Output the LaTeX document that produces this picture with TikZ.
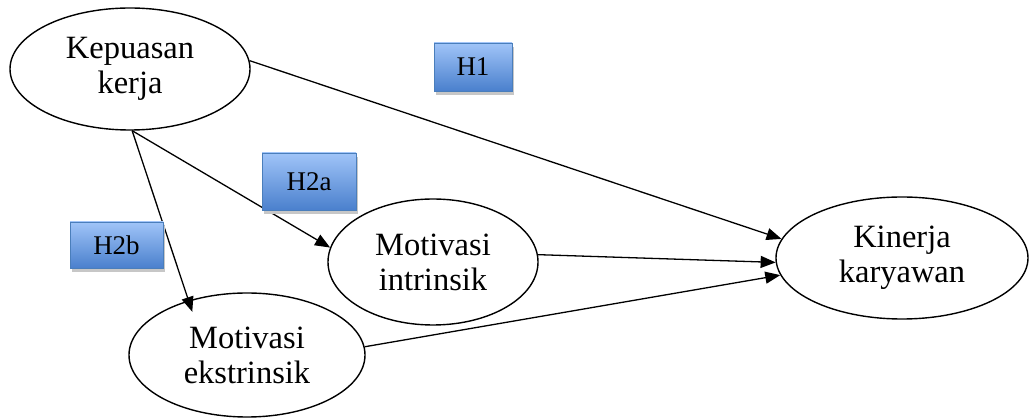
\documentclass[tikz,border=0pt]{standalone}
\usepackage{fontspec}
\setmainfont{Liberation Serif}
\usetikzlibrary{shapes.geometric,arrows.meta,shadows}
\begin{document}
\begin{tikzpicture}[x=1pt,y=-1pt,
  var/.style={ellipse,draw=black,line width=1.4pt,inner sep=0pt,align=center,
    font=\fontsize{32.5}{35}\selectfont},
  hyp/.style={rectangle,draw={rgb,255:red,74;green,126;blue,187},line width=0.6pt,
    top color={rgb,255:red,160;green,196;blue,248},bottom color={rgb,255:red,74;green,128;blue,205},
    inner sep=0pt,font=\fontsize{27}{30}\selectfont,
    drop shadow={shadow xshift=1.5pt,shadow yshift=-4pt,fill=black!22,opacity=1}},
  link/.style={line width=1.3pt,-{Triangle[length=15pt,width=12pt]}}]
\useasboundingbox (0,0) rectangle (1029,419);
\node[var,minimum width=240pt,minimum height=122pt] (kep) at (130,69) {Kepuasan\\kerja};
\node[var,minimum width=252pt,minimum height=122pt] (kin) at (902,258) {Kinerja\\karyawan};
\node[var,minimum width=210pt,minimum height=126pt] (int) at (433,262) {Motivasi\\intrinsik};
\node[var,minimum width=236pt,minimum height=124pt] (ext) at (247,355) {Motivasi\\ekstrinsik};
\draw[link] (kep.4) -- (kin.171);
\draw[link] (kep.-88) -- (int.172);
\draw[link,shorten >=-12pt] (kep.-88) -- (ext.137);
\draw[link] (int.4) -- (kin.182);
\draw[link] (ext.4) -- (kin.188);
\node[hyp,minimum width=78pt,minimum height=48pt] (h1) at (473,67) {H1};
\node[hyp,minimum width=94pt,minimum height=57pt] (h2a) at (309,181.5) {H2a};
\node[hyp,minimum width=93pt,minimum height=46pt] (h2b) at (116.5,245) {H2b};
\end{tikzpicture}
\end{document}
